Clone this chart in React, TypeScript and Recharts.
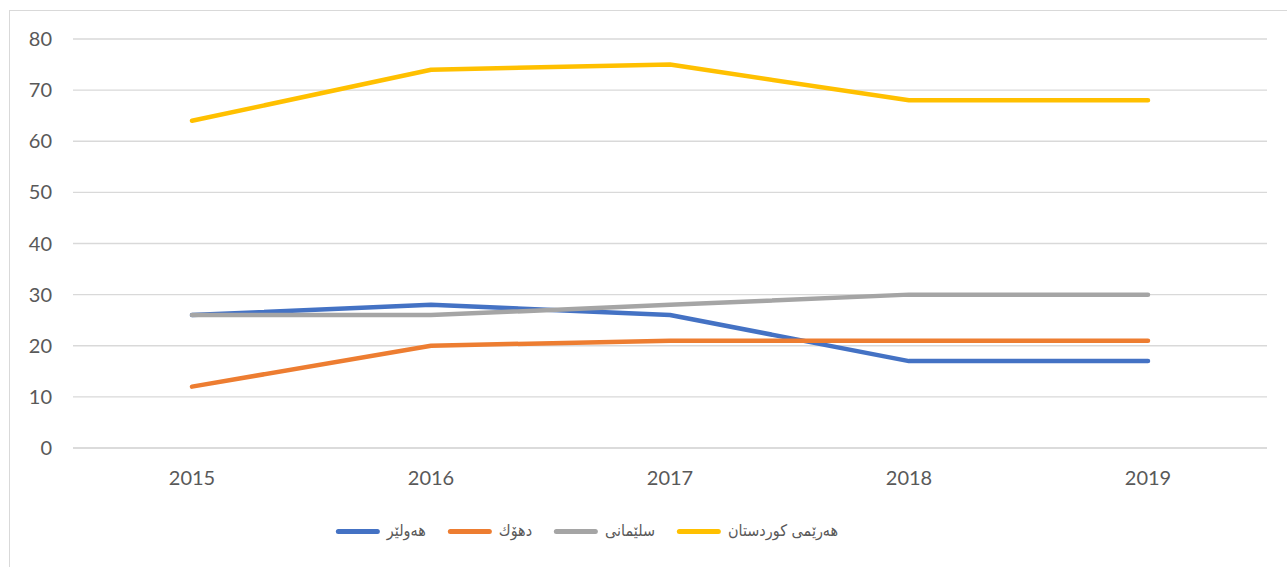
import React from "react";
import { LineChart, Line, XAxis, YAxis, CartesianGrid } from "recharts";

const years = ["2015", "2016", "2017", "2018", "2019"];
const erbil = [26, 28, 26, 17, 17];
const duhok = [12, 20, 21, 21, 21];
const sulaymaniyah = [26, 26, 28, 30, 30];
const kurdistan = [64, 74, 75, 68, 68];
const yTicks = [0, 10, 20, 30, 40, 50, 60, 70, 80];

const series = [
  { key: "erbil", name: "هەولێر", color: "#4472C4", values: erbil },
  { key: "duhok", name: "دهۆك", color: "#ED7D31", values: duhok },
  { key: "sulaymaniyah", name: "سلێمانی", color: "#A5A5A5", values: sulaymaniyah },
  { key: "kurdistan", name: "هەرێمی کوردستان", color: "#FFC000", values: kurdistan },
];

const data = years.map((y, i) => {
  const row: Record<string, string | number> = { year: y };
  series.forEach((s) => (row[s.key] = s.values[i]));
  return row;
});

const FONT = "Lato, 'DejaVu Sans', sans-serif";
const TEXT = "#595959";

export default function App() {
  return (
    <div
      style={{
        position: "fixed",
        left: 9,
        top: 10,
        width: 1300,
        height: 580,
        border: "1px solid #d9d9d9",
        background: "#fff",
        fontFamily: FONT,
      }}
    >
      <LineChart
        width={1277}
        height={555}
        data={data}
        margin={{ top: 28, right: 20, left: 13, bottom: 78 }}
      >
        <CartesianGrid vertical={false} stroke="#d9d9d9" strokeWidth={1.3} />
        <XAxis
          dataKey="year"
          padding={{ left: 119, right: 119 }}
          axisLine={{ stroke: "#d9d9d9", strokeWidth: 1.3 }}
          tickLine={false}
          tickSize={0}
          tickMargin={23}
          height={40}
          tick={{ fill: TEXT, fontSize: 20, fontFamily: FONT }}
        />
        <YAxis
          domain={[0, 80]}
          ticks={yTicks}
          width={50}
          axisLine={false}
          tickLine={false}
          tickSize={0}
          tickMargin={21}
          tick={{ fill: TEXT, fontSize: 20, fontFamily: FONT }}
        />
        {series.map((s) => (
          <Line
            key={s.key}
            dataKey={s.key}
            name={s.name}
            stroke={s.color}
            strokeWidth={4.5}
            strokeLinecap="round"
            strokeLinejoin="round"
            dot={false}
            activeDot={false}
            isAnimationActive={false}
          />
        ))}
      </LineChart>
      <div
        style={{
          position: "absolute",
          top: 506,
          left: 577,
          transform: "translateX(-50%)",
          display: "flex",
          alignItems: "center",
          gap: 22,
          whiteSpace: "nowrap",
        }}
      >
        {series.map((s) => (
          <div key={s.key} style={{ display: "flex", alignItems: "center", gap: 7 }}>
            <div
              style={{
                width: 44,
                height: 5,
                borderRadius: 3,
                background: s.color,
              }}
            />
            <span
              style={{
                color: TEXT,
                fontSize: 16,
                fontFamily: "'DejaVu Sans Condensed', 'DejaVu Sans', sans-serif",
                lineHeight: "28px",
              }}
            >
              {s.name}
            </span>
          </div>
        ))}
      </div>
    </div>
  );
}
